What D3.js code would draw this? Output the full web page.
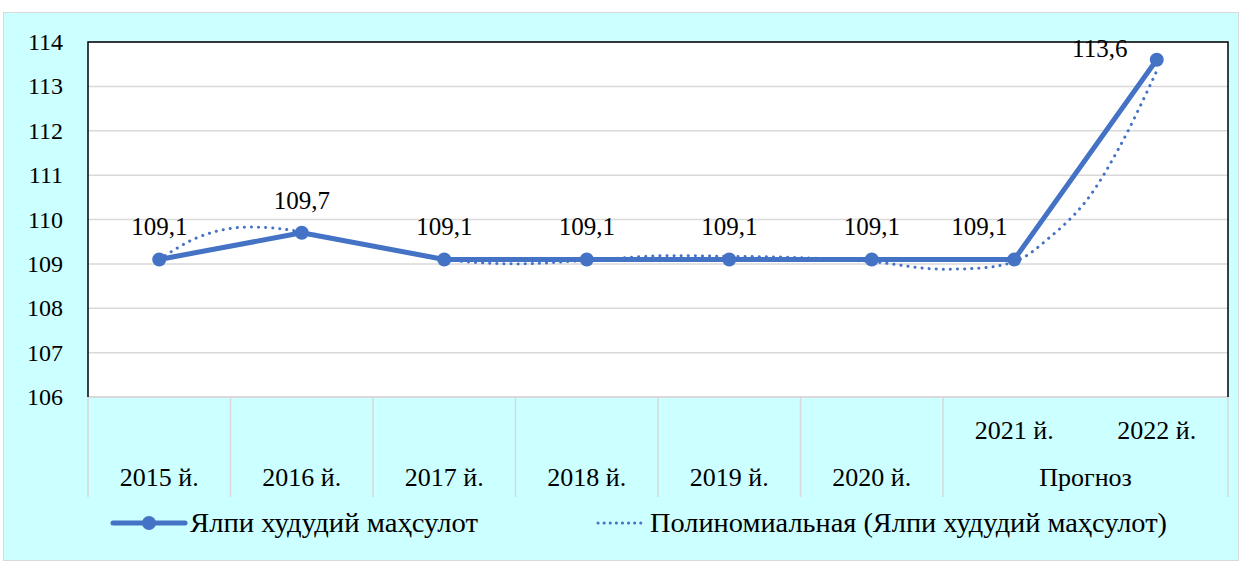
<!DOCTYPE html>
<html>
<head>
<meta charset="utf-8">
<script src="https://cdn.jsdelivr.net/npm/d3@7"></script>
</head>
<body style="margin:0">
<svg id="chart" width="1245" height="563"></svg>
<script>
// Data
const years = ["2015 й.", "2016 й.", "2017 й.", "2018 й.", "2019 й.", "2020 й.", "2021 й.", "2022 й."]
const values = [109.1, 109.7, 109.1, 109.1, 109.1, 109.1, 109.1, 113.6]
const labels = ["109,1", "109,7", "109,1", "109,1", "109,1", "109,1", "109,1", "113,6"]
const forecastGroup = "Прогноз"
const yTicks = [106, 107, 108, 109, 110, 111, 112, 113, 114]

// Polynomial trend line (position in category index units)
const trendPos = [0, 0.25, 0.5, 0.75, 1, 1.5, 2, 2.5, 3, 3.5, 4, 4.5, 5, 5.5, 6, 6.25, 6.5, 6.75, 7]
const trendValues = [109.1, 109.57, 109.8, 109.82, 109.72, 109.4, 109.1, 109.0, 109.08, 109.18, 109.17, 109.14, 109.05, 108.88, 109.05, 109.6, 110.4, 111.7, 113.35]

const seriesName = "Ялпи худудий маҳсулот"
const trendName = "Полиномиальная (Ялпи худудий маҳсулот)"

const blue = "#4472C4"
const grid = "#d9d9d9"
const serif = "Tinos"

const svg = d3.select("#chart")

// outer chart area
svg.append("rect")
    .attr("x", 3.5).attr("y", 12.5)
    .attr("width", 1235).attr("height", 548)
    .attr("fill", "#CCFFFF")
    .attr("stroke", grid)

const plot = {left: 88, right: 1228, top: 42, bottom: 397}

const x = d3.scaleBand()
    .domain(d3.range(years.length))
    .range([plot.left, plot.right])
    .padding(0)
const xc = i => x(0) + x.bandwidth() * (i + 0.5)

const y = d3.scaleLinear()
    .domain([106, 114])
    .range([plot.bottom, plot.top])

// plot area
svg.append("rect")
    .attr("x", plot.left).attr("y", plot.top)
    .attr("width", plot.right - plot.left).attr("height", plot.bottom - plot.top)
    .attr("fill", "#fff")

// gridlines
svg.append("g")
    .selectAll("line")
    .data(yTicks.slice(1))
    .join("line")
    .attr("x1", plot.left).attr("x2", plot.right)
    .attr("y1", d => y(d)).attr("y2", d => y(d))
    .attr("stroke", grid).attr("stroke-width", 1.5)

// y axis labels
svg.append("g")
    .selectAll("text")
    .data(yTicks)
    .join("text")
    .attr("x", plot.left - 25)
    .attr("y", d => y(d) + 8)
    .attr("text-anchor", "end")
    .attr("font-family", serif)
    .attr("font-size", 24)
    .text(d => d)

// category axis: box lines
const catBottom = 497
svg.append("line")
    .attr("x1", plot.left).attr("x2", plot.right)
    .attr("y1", plot.bottom).attr("y2", plot.bottom)
    .attr("stroke", grid).attr("stroke-width", 2)

const sepIdx = [0, 1, 2, 3, 4, 5, 6, 8]
svg.append("g")
    .selectAll("line")
    .data(sepIdx)
    .join("line")
    .attr("x1", d => x(0) + x.bandwidth() * d)
    .attr("x2", d => x(0) + x.bandwidth() * d)
    .attr("y1", plot.bottom).attr("y2", catBottom)
    .attr("stroke", grid).attr("stroke-width", 1.5)

// plot border (left, top, right)
svg.append("path")
    .attr("d", `M${plot.left},${plot.bottom}V${plot.top}H${plot.right}V${plot.bottom}`)
    .attr("fill", "none")
    .attr("stroke", "#000")
    .attr("stroke-width", 1.5)

// category labels
svg.append("g")
    .selectAll("text")
    .data(years)
    .join("text")
    .attr("x", (d, i) => xc(i))
    .attr("y", (d, i) => i >= 6 ? 439 : 486)
    .attr("text-anchor", "middle")
    .attr("font-family", serif)
    .attr("font-size", 26)
    .text(d => d)

svg.append("text")
    .attr("x", (xc(6) + xc(7)) / 2)
    .attr("y", 486)
    .attr("text-anchor", "middle")
    .attr("font-family", serif)
    .attr("font-size", 26)
    .text(forecastGroup)

// trend line
const trendLine = d3.line()
    .x(d => xc(d[0]))
    .y(d => y(d[1]))
    .curve(d3.curveCatmullRom.alpha(0.5))

svg.append("path")
    .datum(d3.zip(trendPos, trendValues))
    .attr("d", trendLine)
    .attr("fill", "none")
    .attr("stroke", blue)
    .attr("stroke-width", 3)
    .attr("stroke-linecap", "round")
    .attr("stroke-dasharray", "0.1 7")

// main series
const line = d3.line()
    .x((d, i) => xc(i))
    .y(d => y(d))

svg.append("path")
    .datum(values)
    .attr("d", line)
    .attr("fill", "none")
    .attr("stroke", blue)
    .attr("stroke-width", 5)
    .attr("stroke-linejoin", "round")

svg.append("g")
    .selectAll("circle")
    .data(values)
    .join("circle")
    .attr("cx", (d, i) => xc(i))
    .attr("cy", d => y(d))
    .attr("r", 7)
    .attr("fill", blue)

// data labels, last two pushed left like in the original
const labelShift = {6: -35, 7: -57}
const labelLift = {7: 3}
svg.append("g")
    .selectAll("text")
    .data(values)
    .join("text")
    .attr("x", (d, i) => xc(i) + (labelShift[i] || 0))
    .attr("y", (d, i) => y(d) - (labelLift[i] || 24))
    .attr("text-anchor", "middle")
    .attr("font-family", serif)
    .attr("font-size", 25)
    .text((d, i) => labels[i])

// legend
const legY = 523
const legend = [
    {name: seriesName, x: 190, w: 288},
    {name: trendName, x: 650, w: 517}
]
svg.append("line")
    .attr("x1", 113).attr("x2", 185)
    .attr("y1", legY).attr("y2", legY)
    .attr("stroke", blue).attr("stroke-width", 5).attr("stroke-linecap", "round")
svg.append("circle")
    .attr("cx", 149).attr("cy", legY).attr("r", 7).attr("fill", blue)
svg.append("line")
    .attr("x1", 598).attr("x2", 641)
    .attr("y1", legY).attr("y2", legY)
    .attr("stroke", blue).attr("stroke-width", 3)
    .attr("stroke-linecap", "round").attr("stroke-dasharray", "0.1 6")

svg.append("g")
    .selectAll("text")
    .data(legend)
    .join("text")
    .attr("x", d => d.x)
    .attr("y", legY + 9)
    .attr("textLength", d => d.w)
    .attr("lengthAdjust", "spacingAndGlyphs")
    .attr("font-family", serif)
    .attr("font-size", 28)
    .text(d => d.name)
</script>
</body>
</html>
